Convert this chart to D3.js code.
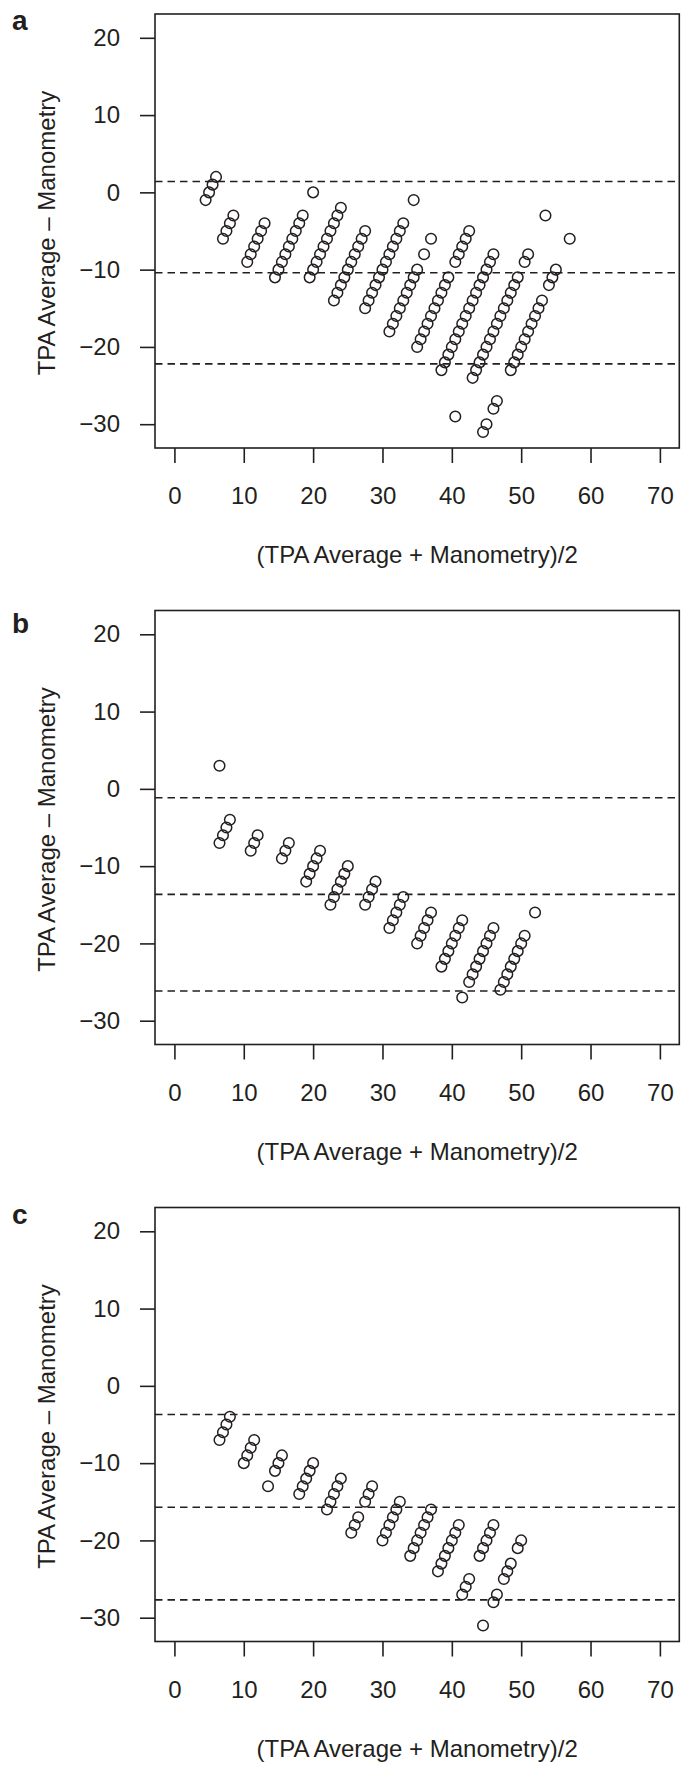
<!DOCTYPE html>
<html>
<head>
<meta charset="utf-8">
<script src="https://cdn.jsdelivr.net/npm/d3@7"></script>
<style>
  html, body { margin: 0; padding: 0; background: #fff; }
  svg { display: block; }
  text { font-family: "Liberation Sans", Arial, Helvetica, sans-serif; fill: #231f20; }
</style>
</head>
<body>
<svg id="chart" width="692" height="1772"></svg>
<script>
// ---------- data ----------
const xTicks = [0, 10, 20, 30, 40, 50, 60, 70];
const yTicks = [-30, -20, -10, 0, 10, 20];
const panelLabels = ["a", "b", "c"];
const xTitle = "(TPA Average + Manometry)/2";
const yTitle = "TPA Average \u2013 Manometry";

// panel a : mean (x) and difference (y)
const aMean = [4.5,5,5.5,6, 7,7.5,8,8.5, 10.5,11,11.5,12,12.5,13,
  14.5,15,15.5,16,16.5,17,17.5,18,18.5,20,
  19.5,20,20.5,21,21.5,22,22.5,23,23.5,24,
  23,23.5,24,24.5,25,25.5,26,26.5,27,27.5,
  27.5,28,28.5,29,29.5,30,30.5,31,31.5,32,32.5,33,34.5,
  31,31.5,32,32.5,33,33.5,34,34.5,35,36,37,
  35,35.5,36,36.5,37,37.5,38,38.5,39,39.5,40.5,41,41.5,42,42.5,
  38.5,39,39.5,40,40.5,41,41.5,42,42.5,43,43.5,44,44.5,45,45.5,46,
  40.5,43,43.5,44,44.5,45,45.5,46,46.5,47,47.5,48,48.5,49,49.5,50.5,51,53.5,
  44.5,45,46,46.5,48.5,49,49.5,50,50.5,51,51.5,52,52.5,53,54,54.5,55,57];
const aDiff = [-1,0,1,2, -6,-5,-4,-3, -9,-8,-7,-6,-5,-4,
  -11,-10,-9,-8,-7,-6,-5,-4,-3,0,
  -11,-10,-9,-8,-7,-6,-5,-4,-3,-2,
  -14,-13,-12,-11,-10,-9,-8,-7,-6,-5,
  -15,-14,-13,-12,-11,-10,-9,-8,-7,-6,-5,-4,-1,
  -18,-17,-16,-15,-14,-13,-12,-11,-10,-8,-6,
  -20,-19,-18,-17,-16,-15,-14,-13,-12,-11,-9,-8,-7,-6,-5,
  -23,-22,-21,-20,-19,-18,-17,-16,-15,-14,-13,-12,-11,-10,-9,-8,
  -29,-24,-23,-22,-21,-20,-19,-18,-17,-16,-15,-14,-13,-12,-11,-9,-8,-3,
  -31,-30,-28,-27,-23,-22,-21,-20,-19,-18,-17,-16,-15,-14,-12,-11,-10,-6];
const aLimits = [1.4, -10.4, -22.2];

// panel b
const bMean = [6.5, 6.5,7,7.5,8, 11,11.5,12, 15.5,16,16.5,
  19,19.5,20,20.5,21, 22.5,23,23.5,24,24.5,25, 27.5,28,28.5,29,
  31,31.5,32,32.5,33, 35,35.5,36,36.5,37,
  38.5,39,39.5,40,40.5,41,41.5,
  41.5,42.5,43,43.5,44,44.5,45,45.5,46,
  47,47.5,48,48.5,49,49.5,50,50.5,52];
const bDiff = [3, -7,-6,-5,-4, -8,-7,-6, -9,-8,-7,
  -12,-11,-10,-9,-8, -15,-14,-13,-12,-11,-10, -15,-14,-13,-12,
  -18,-17,-16,-15,-14, -20,-19,-18,-17,-16,
  -23,-22,-21,-20,-19,-18,-17,
  -27,-25,-24,-23,-22,-21,-20,-19,-18,
  -26,-25,-24,-23,-22,-21,-20,-19,-16];
const bLimits = [-1.15, -13.65, -26.15];

// panel c
const cMean = [6.5,7,7.5,8, 10,10.5,11,11.5, 13.5,14.5,15,15.5,
  18,18.5,19,19.5,20, 22,22.5,23,23.5,24,
  25.5,26,26.5,27.5,28,28.5, 30,30.5,31,31.5,32,32.5,
  34,34.5,35,35.5,36,36.5,37, 38,38.5,39,39.5,40,40.5,41,
  41.5,42,42.5,44,44.5,45,45.5,46,
  44.5,46,46.5,47.5,48,48.5,49.5,50];
const cDiff = [-7,-6,-5,-4, -10,-9,-8,-7, -13,-11,-10,-9,
  -14,-13,-12,-11,-10, -16,-15,-14,-13,-12,
  -19,-18,-17,-15,-14,-13, -20,-19,-18,-17,-16,-15,
  -22,-21,-20,-19,-18,-17,-16, -24,-23,-22,-21,-20,-19,-18,
  -27,-26,-25,-22,-21,-20,-19,-18,
  -31,-28,-27,-25,-24,-23,-21,-20];
const cLimits = [-3.7, -15.7, -27.7];

// ---------- layout ----------
const panels = [
  { label: panelLabels[0], mean: aMean, diff: aDiff, limits: aLimits, top: 14,    labelY: 30 },
  { label: panelLabels[1], mean: bMean, diff: bDiff, limits: bLimits, top: 610.5, labelY: 633 },
  { label: panelLabels[2], mean: cMean, diff: cDiff, limits: cLimits, top: 1207.5, labelY: 1224 }
];
const boxLeft = 155, boxRight = 679.3, boxH = 434;
const ink = "#231f20";
const fontSize = 24;

const svg = d3.select("#chart");
svg.append("rect").attr("width", 692).attr("height", 1772).attr("fill", "#fff");

const x = d3.scaleLinear().domain([-2.8, 72.8]).range([boxLeft, boxRight]);
const y = d3.scaleLinear().domain([-33.08, 23.08]).range([boxH, 0]);

panels.forEach(p => {
  const g = svg.append("g").attr("transform", `translate(0,${p.top})`);

  // limit lines
  g.selectAll("line.lim").data(p.limits).enter().append("line")
    .attr("class", "lim")
    .attr("x1", boxLeft).attr("x2", boxRight)
    .attr("y1", d => y(d)).attr("y2", d => y(d))
    .attr("stroke", ink).attr("stroke-width", 1.6)
    .attr("stroke-dasharray", "7.5,5");

  // points
  const pts = p.mean.map((m, i) => [m, p.diff[i]]);
  g.selectAll("circle").data(pts).enter().append("circle")
    .attr("cx", d => x(d[0])).attr("cy", d => y(d[1]))
    .attr("r", 5.3)
    .attr("fill", "none").attr("stroke", ink).attr("stroke-width", 1.5);

  // box
  g.append("rect")
    .attr("x", boxLeft).attr("y", 0)
    .attr("width", boxRight - boxLeft).attr("height", boxH)
    .attr("fill", "none").attr("stroke", ink).attr("stroke-width", 1.6);

  // x axis
  const xa = g.append("g").attr("transform", `translate(0,${boxH})`)
    .call(d3.axisBottom(x).tickValues(xTicks).tickSize(15).tickPadding(24).tickFormat(d3.format("d")));
  xa.select(".domain").remove();
  xa.selectAll("line").attr("stroke", ink).attr("stroke-width", 1.6);
  xa.selectAll("text").attr("fill", ink).style("font-size", fontSize + "px")
    .style("font-family", '"Liberation Sans", Arial, sans-serif');

  // y axis
  const ya = g.append("g").attr("transform", `translate(${boxLeft},0)`)
    .call(d3.axisLeft(y).tickValues(yTicks).tickSize(15).tickPadding(20).tickFormat(d3.format("d")));
  ya.select(".domain").remove();
  ya.selectAll("line").attr("stroke", ink).attr("stroke-width", 1.6);
  ya.selectAll("text").attr("fill", ink).style("font-size", fontSize + "px")
    .style("font-family", '"Liberation Sans", Arial, sans-serif');

  // axis titles
  g.append("text")
    .attr("x", (boxLeft + boxRight) / 2).attr("y", boxH + 115)
    .attr("text-anchor", "middle").style("font-size", fontSize + "px")
    .text(xTitle);
  g.append("text")
    .attr("transform", `translate(55,${boxH / 2 + 2}) rotate(-90)`)
    .attr("text-anchor", "middle").style("font-size", fontSize + "px")
    .text(yTitle);

  // panel letter
  svg.append("text")
    .attr("x", 12).attr("y", p.labelY)
    .style("font-size", "28px").style("font-weight", "bold")
    .text(p.label);
});
</script>
</body>
</html>
